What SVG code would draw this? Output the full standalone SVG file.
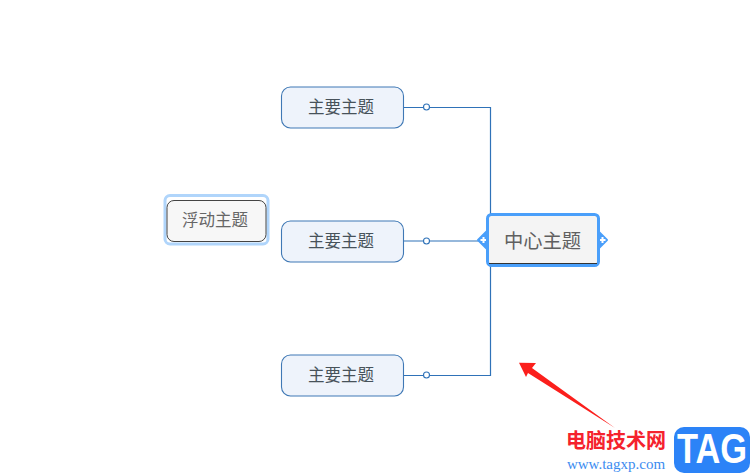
<svg xmlns="http://www.w3.org/2000/svg" width="754" height="476" viewBox="0 0 754 476">
<style>
text{font-family:"Noto Sans CJK SC","Liberation Sans",sans-serif;text-anchor:middle}
.main rect{fill:#eef3fb;stroke:#3f78b5;stroke-width:1.100}
.main text{font-size:16.500px;fill:#47525a}
.line{fill:none;stroke:#2f72b8;stroke-width:1.200}
.dot{fill:#fff;stroke:#2f72b8;stroke-width:1.100}
.plus{fill:#4a9ffa;stroke:#4a9ffa;stroke-width:2;stroke-linejoin:round}
.pl{stroke:#fff;stroke-width:2;fill:none}
</style>
<rect width="754" height="476" fill="#fff"/>
<g id="connectors">
<path class="line" d="M403 107.500H490.500V214"/>
<path class="line" d="M403 241H480"/>
<path class="line" d="M403 375.500H490.500V266"/>
<circle class="dot" cx="426.500" cy="107" r="3"/>
<circle class="dot" cx="426.500" cy="241" r="3"/>
<circle class="dot" cx="426.500" cy="375" r="3"/>
</g>
<g id="main1" class="main"><rect x="281.500" y="87" width="122" height="41" rx="9"/><text x="341" y="113">主要主题</text></g>
<g id="main2" class="main"><rect x="281.500" y="221" width="122" height="41" rx="9"/><text x="341" y="247">主要主题</text></g>
<g id="main3" class="main"><rect x="281.500" y="355" width="122" height="41" rx="9"/><text x="341" y="380.500">主要主题</text></g>
<g id="floating">
<rect x="165" y="195.500" width="103" height="48.500" rx="5" fill="#fff" stroke="#b0d5fb" stroke-width="3"/>
<rect x="167" y="200.500" width="99" height="41" rx="7" fill="#f7f7f7" stroke="#444" stroke-width="1"/>
<text x="215" y="226" font-size="16.500" fill="#666">浮动主题</text>
</g>
<g id="center">
<path class="plus" d="M487 231L478 240L487 249Z"/>
<path class="plus" d="M598 231L607 240L598 249Z"/>
<path class="pl" d="M480.500 240H486.500M483.500 237V243"/>
<path class="pl" d="M599.500 240H605.500M602.500 237V243"/>
<rect x="487.500" y="214.500" width="111" height="51" rx="4" fill="#f4f4f4" stroke="#4a9ffa" stroke-width="3"/>
<path d="M489 263.500H597" stroke="#333" stroke-width="1"/>
<text x="542.500" y="248" font-size="19.300" fill="#606060">中心主题</text>
</g>
<g id="watermark">
<path d="M519 362.800L536 363L532 368L615 428L528 373L526 377Z" fill="#fb1f1c"/>
<text x="616" y="448" font-size="20" font-weight="700" fill="#f5222d">电脑技术网</text>
<text x="616" y="469" font-size="15" fill="#3c8cf0" style="font-family:'Liberation Serif',serif">www.tagxp.com</text>
<rect x="674" y="427" width="76" height="46" rx="10" fill="#2c83f7"/>
<text transform="translate(712 463) scale(.82 1)" font-size="42" font-weight="700" fill="#fff" style="font-family:'Liberation Sans',sans-serif">TAG</text>
</g>
</svg>
